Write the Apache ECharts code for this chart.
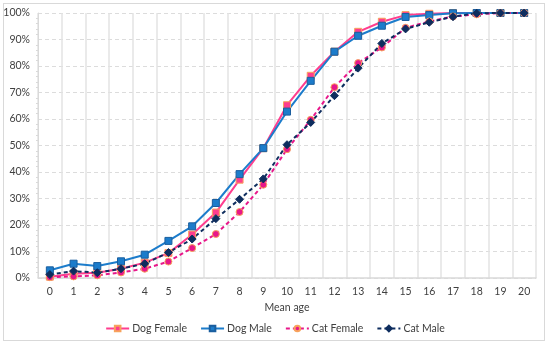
<!DOCTYPE html>
<html><head><meta charset="utf-8">
<script src="https://cdn.jsdelivr.net/npm/echarts@6/dist/echarts.min.js"></script>
<style>html,body{margin:0;padding:0;background:#fff}
#frame{position:absolute;left:3px;top:3px;width:542px;height:338px;border:1.5px solid #D9D9D9;box-sizing:border-box}
#c{position:absolute;left:0;top:0;width:550px;height:347px}</style>
</head><body><div id="frame"></div><div id="c"></div>
<script>
const categories = ['0','1','2','3','4','5','6','7','8','9','10','11','12','13','14','15','16','17','18','19','20'];
const dogFemale = [0.5,1.6,2.0,3.5,5.8,9.4,16.4,24.7,37.1,49.0,65.2,76.3,85.4,92.9,96.7,99.2,99.7,100,100,100,100];
const dogMale   = [2.9,5.4,4.5,6.3,8.8,14.0,19.5,28.3,39.2,49.0,62.8,74.4,85.4,91.4,95.2,98.5,99.2,99.9,100,100,100];
const catFemale = [0.3,0.6,1.0,2.1,3.5,6.2,11.3,16.6,24.9,35.2,48.6,59.7,72.0,81.1,87.0,94.4,96.8,98.7,99.5,100,100];
const catMale   = [1.3,2.6,2.0,3.5,5.4,9.6,14.7,22.4,29.7,37.4,50.3,58.7,68.8,79.2,88.5,94.0,96.5,98.6,99.9,100,100];
const yTicks = {min:0, max:100, interval:10};

const font = 'Lato, "Open Sans", sans-serif';
const chart = echarts.init(document.getElementById('c'));
function s(name, data, color, symbol, border, dashed){
  return {name, type:'line', data, symbol, symbolSize: symbol==='diamond'?8:7,
    lineStyle:{color, width:2, type: dashed?[4,3]:'solid'},
    itemStyle:{color, borderColor:border, borderWidth:1},
    emphasis:{disabled:true}};
}
chart.setOption({
  animation:false,
  grid:{left:38, right:14, top:13, bottom:69},
  legend:{bottom:8, left:'center', itemWidth:23, itemHeight:7, itemGap:13,
    textStyle:{fontFamily:font, fontSize:10.5, color:'#404040', padding:[0,0,0,-2]},
    data:['Dog Female','Dog Male','Cat Female','Cat Male']},
  xAxis:{type:'category', data:categories, boundaryGap:true, name:'Mean age', nameLocation:'middle', nameGap:23,
    nameTextStyle:{fontFamily:font, fontSize:10.5, color:'#404040'},
    axisLine:{lineStyle:{color:'#D9D9D9', width:1.5}}, axisTick:{show:false},
    axisLabel:{fontFamily:font, fontSize:10.5, color:'#404040', margin:8},
    splitLine:{show:true, lineStyle:{color:'#E3E3E3', width:1.5}}},
  yAxis:{type:'value', min:yTicks.min, max:yTicks.max, interval:yTicks.interval,
    axisLabel:{formatter:'{value}%', fontFamily:font, fontSize:10.5, color:'#404040', margin:8},
    axisLine:{show:true, lineStyle:{color:'#D9D9D9'}}, axisTick:{show:false},
    minorTick:{show:true, splitNumber:5, length:2, lineStyle:{color:'#D9D9D9'}},
    splitLine:{lineStyle:{color:'#DCDCDC', type:[4,3]}}},
  series:[
    s('Dog Female', dogFemale, '#FF3D8E', 'rect', '#F7A35C', false),
    s('Dog Male', dogMale, '#1C7CCB', 'rect', '#1A5E9E', false),
    s('Cat Female', catFemale, '#E8178A', 'circle', '#F7A35C', true),
    s('Cat Male', catMale, '#0E2D5E', 'diamond', '#0E2D5E', true)
  ]
});
</script></body></html>
